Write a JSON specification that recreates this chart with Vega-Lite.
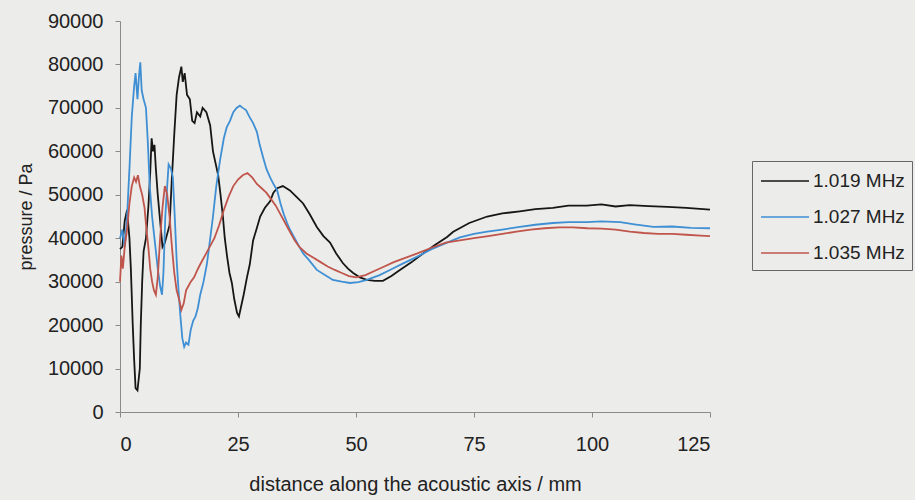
{
  "$schema": "https://vega.github.io/schema/vega-lite/v6.json",
  "width": 590,
  "height": 391,
  "autosize": "none",
  "padding": {"left": 120, "top": 21, "right": 205, "bottom": 88},
  "background": "#ececea",
  "config": {
    "view": {"stroke": null},
    "font": "Liberation Sans"
  },
  "data": {
    "values": [
      {"f":"1.019 MHz","x":0,"y":37500},{"f":"1.019 MHz","x":0.5,"y":38000},{"f":"1.019 MHz","x":1.0,"y":44000},{"f":"1.019 MHz","x":1.5,"y":46500},{"f":"1.019 MHz","x":2.0,"y":40000},{"f":"1.019 MHz","x":2.3,"y":33000},{"f":"1.019 MHz","x":2.7,"y":20000},{"f":"1.019 MHz","x":3.0,"y":12000},{"f":"1.019 MHz","x":3.3,"y":5500},{"f":"1.019 MHz","x":3.7,"y":5000},{"f":"1.019 MHz","x":4.0,"y":8000},{"f":"1.019 MHz","x":4.2,"y":10000},{"f":"1.019 MHz","x":4.4,"y":20000},{"f":"1.019 MHz","x":4.7,"y":30000},{"f":"1.019 MHz","x":5.0,"y":37000},{"f":"1.019 MHz","x":5.5,"y":40000},{"f":"1.019 MHz","x":6.0,"y":47000},{"f":"1.019 MHz","x":6.4,"y":55000},{"f":"1.019 MHz","x":6.7,"y":63000},{"f":"1.019 MHz","x":7.0,"y":60000},{"f":"1.019 MHz","x":7.3,"y":61500},{"f":"1.019 MHz","x":7.6,"y":56000},{"f":"1.019 MHz","x":8.0,"y":50000},{"f":"1.019 MHz","x":8.5,"y":44000},{"f":"1.019 MHz","x":9.0,"y":38000},{"f":"1.019 MHz","x":9.5,"y":39000},{"f":"1.019 MHz","x":10.0,"y":41000},{"f":"1.019 MHz","x":10.5,"y":43000},{"f":"1.019 MHz","x":11.0,"y":54000},{"f":"1.019 MHz","x":11.5,"y":64000},{"f":"1.019 MHz","x":12.0,"y":73000},{"f":"1.019 MHz","x":12.5,"y":77000},{"f":"1.019 MHz","x":13.0,"y":79500},{"f":"1.019 MHz","x":13.3,"y":76000},{"f":"1.019 MHz","x":13.7,"y":78000},{"f":"1.019 MHz","x":14.2,"y":73000},{"f":"1.019 MHz","x":14.8,"y":72000},{"f":"1.019 MHz","x":15.3,"y":67000},{"f":"1.019 MHz","x":15.8,"y":66500},{"f":"1.019 MHz","x":16.3,"y":69000},{"f":"1.019 MHz","x":17.0,"y":68000},{"f":"1.019 MHz","x":17.5,"y":70000},{"f":"1.019 MHz","x":18.3,"y":69000},{"f":"1.019 MHz","x":19.1,"y":66000},{"f":"1.019 MHz","x":19.7,"y":60000},{"f":"1.019 MHz","x":20.3,"y":57000},{"f":"1.019 MHz","x":20.8,"y":54500},{"f":"1.019 MHz","x":21.3,"y":50000},{"f":"1.019 MHz","x":21.8,"y":45000},{"f":"1.019 MHz","x":22.2,"y":40000},{"f":"1.019 MHz","x":22.7,"y":35700},{"f":"1.019 MHz","x":23.2,"y":32000},{"f":"1.019 MHz","x":23.7,"y":29700},{"f":"1.019 MHz","x":24.2,"y":26000},{"f":"1.019 MHz","x":24.8,"y":22800},{"f":"1.019 MHz","x":25.2,"y":22000},{"f":"1.019 MHz","x":25.6,"y":24000},{"f":"1.019 MHz","x":26.2,"y":27000},{"f":"1.019 MHz","x":26.9,"y":31000},{"f":"1.019 MHz","x":27.5,"y":34000},{"f":"1.019 MHz","x":28.2,"y":39500},{"f":"1.019 MHz","x":28.9,"y":42000},{"f":"1.019 MHz","x":29.7,"y":45000},{"f":"1.019 MHz","x":30.7,"y":47000},{"f":"1.019 MHz","x":31.8,"y":48500},{"f":"1.019 MHz","x":32.5,"y":50500},{"f":"1.019 MHz","x":33.3,"y":51500},{"f":"1.019 MHz","x":34.5,"y":52000},{"f":"1.019 MHz","x":36.0,"y":51000},{"f":"1.019 MHz","x":37.4,"y":49500},{"f":"1.019 MHz","x":38.8,"y":48000},{"f":"1.019 MHz","x":40.2,"y":45500},{"f":"1.019 MHz","x":41.7,"y":42600},{"f":"1.019 MHz","x":43.1,"y":40500},{"f":"1.019 MHz","x":44.5,"y":39000},{"f":"1.019 MHz","x":45.8,"y":36500},{"f":"1.019 MHz","x":47.2,"y":34300},{"f":"1.019 MHz","x":48.3,"y":33000},{"f":"1.019 MHz","x":49.4,"y":32000},{"f":"1.019 MHz","x":50.8,"y":31000},{"f":"1.019 MHz","x":52.3,"y":30400},{"f":"1.019 MHz","x":54.0,"y":30200},{"f":"1.019 MHz","x":55.7,"y":30200},{"f":"1.019 MHz","x":57.5,"y":31300},{"f":"1.019 MHz","x":59.3,"y":32700},{"f":"1.019 MHz","x":61.8,"y":34500},{"f":"1.019 MHz","x":64.2,"y":36500},{"f":"1.019 MHz","x":66.8,"y":38500},{"f":"1.019 MHz","x":69.3,"y":40300},{"f":"1.019 MHz","x":70.6,"y":41500},{"f":"1.019 MHz","x":74.0,"y":43500},{"f":"1.019 MHz","x":77.8,"y":45000},{"f":"1.019 MHz","x":81.0,"y":45700},{"f":"1.019 MHz","x":84.7,"y":46200},{"f":"1.019 MHz","x":88.0,"y":46700},{"f":"1.019 MHz","x":91.7,"y":47000},{"f":"1.019 MHz","x":95.0,"y":47500},{"f":"1.019 MHz","x":98.9,"y":47500},{"f":"1.019 MHz","x":102,"y":47800},{"f":"1.019 MHz","x":105,"y":47300},{"f":"1.019 MHz","x":108,"y":47600},{"f":"1.019 MHz","x":112,"y":47400},{"f":"1.019 MHz","x":116,"y":47200},{"f":"1.019 MHz","x":120,"y":47000},{"f":"1.019 MHz","x":125,"y":46600},
      {"f":"1.027 MHz","x":0,"y":40000},{"f":"1.027 MHz","x":0.5,"y":42000},{"f":"1.027 MHz","x":1.0,"y":38000},{"f":"1.027 MHz","x":1.5,"y":45000},{"f":"1.027 MHz","x":2.0,"y":56000},{"f":"1.027 MHz","x":2.5,"y":68000},{"f":"1.027 MHz","x":3.0,"y":75000},{"f":"1.027 MHz","x":3.3,"y":78000},{"f":"1.027 MHz","x":3.7,"y":72000},{"f":"1.027 MHz","x":4.0,"y":77000},{"f":"1.027 MHz","x":4.3,"y":80500},{"f":"1.027 MHz","x":4.6,"y":74000},{"f":"1.027 MHz","x":5.0,"y":72000},{"f":"1.027 MHz","x":5.5,"y":70000},{"f":"1.027 MHz","x":5.9,"y":62000},{"f":"1.027 MHz","x":6.3,"y":52000},{"f":"1.027 MHz","x":6.8,"y":45000},{"f":"1.027 MHz","x":7.2,"y":41000},{"f":"1.027 MHz","x":7.7,"y":36000},{"f":"1.027 MHz","x":8.0,"y":33000},{"f":"1.027 MHz","x":8.5,"y":29000},{"f":"1.027 MHz","x":8.9,"y":27000},{"f":"1.027 MHz","x":9.2,"y":32000},{"f":"1.027 MHz","x":9.6,"y":45000},{"f":"1.027 MHz","x":10.0,"y":52000},{"f":"1.027 MHz","x":10.3,"y":57000},{"f":"1.027 MHz","x":10.8,"y":56000},{"f":"1.027 MHz","x":11.2,"y":54000},{"f":"1.027 MHz","x":11.6,"y":45000},{"f":"1.027 MHz","x":12.0,"y":35000},{"f":"1.027 MHz","x":12.4,"y":28000},{"f":"1.027 MHz","x":12.8,"y":22000},{"f":"1.027 MHz","x":13.2,"y":17000},{"f":"1.027 MHz","x":13.6,"y":15000},{"f":"1.027 MHz","x":14.0,"y":16000},{"f":"1.027 MHz","x":14.5,"y":15500},{"f":"1.027 MHz","x":15.0,"y":19000},{"f":"1.027 MHz","x":15.5,"y":21000},{"f":"1.027 MHz","x":16.0,"y":22000},{"f":"1.027 MHz","x":16.5,"y":24000},{"f":"1.027 MHz","x":17.0,"y":27000},{"f":"1.027 MHz","x":17.7,"y":30000},{"f":"1.027 MHz","x":18.4,"y":34000},{"f":"1.027 MHz","x":19.0,"y":39000},{"f":"1.027 MHz","x":19.7,"y":45000},{"f":"1.027 MHz","x":20.4,"y":52000},{"f":"1.027 MHz","x":21.2,"y":58000},{"f":"1.027 MHz","x":22.0,"y":63000},{"f":"1.027 MHz","x":22.6,"y":65500},{"f":"1.027 MHz","x":23.3,"y":67000},{"f":"1.027 MHz","x":24.0,"y":69000},{"f":"1.027 MHz","x":24.7,"y":70000},{"f":"1.027 MHz","x":25.4,"y":70500},{"f":"1.027 MHz","x":26.0,"y":70000},{"f":"1.027 MHz","x":26.7,"y":69500},{"f":"1.027 MHz","x":27.4,"y":68000},{"f":"1.027 MHz","x":28.2,"y":66500},{"f":"1.027 MHz","x":29.0,"y":64500},{"f":"1.027 MHz","x":29.6,"y":61500},{"f":"1.027 MHz","x":30.3,"y":58700},{"f":"1.027 MHz","x":31.0,"y":56000},{"f":"1.027 MHz","x":31.8,"y":54000},{"f":"1.027 MHz","x":32.5,"y":52500},{"f":"1.027 MHz","x":33.3,"y":51000},{"f":"1.027 MHz","x":34.0,"y":48000},{"f":"1.027 MHz","x":34.7,"y":45500},{"f":"1.027 MHz","x":35.4,"y":43500},{"f":"1.027 MHz","x":36.0,"y":42000},{"f":"1.027 MHz","x":37.0,"y":40000},{"f":"1.027 MHz","x":38.0,"y":38000},{"f":"1.027 MHz","x":38.8,"y":36500},{"f":"1.027 MHz","x":40.0,"y":35000},{"f":"1.027 MHz","x":41.7,"y":32700},{"f":"1.027 MHz","x":43.5,"y":31500},{"f":"1.027 MHz","x":45.1,"y":30400},{"f":"1.027 MHz","x":47.0,"y":30000},{"f":"1.027 MHz","x":48.7,"y":29700},{"f":"1.027 MHz","x":50.5,"y":29900},{"f":"1.027 MHz","x":52.3,"y":30400},{"f":"1.027 MHz","x":55.0,"y":31500},{"f":"1.027 MHz","x":57.2,"y":32700},{"f":"1.027 MHz","x":60.0,"y":34200},{"f":"1.027 MHz","x":62.9,"y":35700},{"f":"1.027 MHz","x":66.0,"y":37500},{"f":"1.027 MHz","x":69.3,"y":39000},{"f":"1.027 MHz","x":72.0,"y":40200},{"f":"1.027 MHz","x":75.0,"y":41000},{"f":"1.027 MHz","x":77.8,"y":41500},{"f":"1.027 MHz","x":81.0,"y":42000},{"f":"1.027 MHz","x":84.7,"y":42600},{"f":"1.027 MHz","x":88.0,"y":43100},{"f":"1.027 MHz","x":91.7,"y":43500},{"f":"1.027 MHz","x":95.0,"y":43700},{"f":"1.027 MHz","x":98.9,"y":43700},{"f":"1.027 MHz","x":102.0,"y":43900},{"f":"1.027 MHz","x":106.0,"y":43700},{"f":"1.027 MHz","x":109.0,"y":43200},{"f":"1.027 MHz","x":113.0,"y":42600},{"f":"1.027 MHz","x":117.0,"y":42700},{"f":"1.027 MHz","x":121.0,"y":42400},{"f":"1.027 MHz","x":125.0,"y":42300},
      {"f":"1.035 MHz","x":0,"y":30000},{"f":"1.035 MHz","x":0.3,"y":36000},{"f":"1.035 MHz","x":0.6,"y":33000},{"f":"1.035 MHz","x":1.0,"y":38000},{"f":"1.035 MHz","x":1.5,"y":42000},{"f":"1.035 MHz","x":2.0,"y":48000},{"f":"1.035 MHz","x":2.5,"y":52000},{"f":"1.035 MHz","x":3.0,"y":54000},{"f":"1.035 MHz","x":3.4,"y":53000},{"f":"1.035 MHz","x":3.8,"y":54500},{"f":"1.035 MHz","x":4.2,"y":52000},{"f":"1.035 MHz","x":4.7,"y":50000},{"f":"1.035 MHz","x":5.2,"y":47000},{"f":"1.035 MHz","x":5.6,"y":42000},{"f":"1.035 MHz","x":6.0,"y":38000},{"f":"1.035 MHz","x":6.4,"y":33000},{"f":"1.035 MHz","x":6.8,"y":30000},{"f":"1.035 MHz","x":7.2,"y":28000},{"f":"1.035 MHz","x":7.6,"y":27000},{"f":"1.035 MHz","x":8.0,"y":31000},{"f":"1.035 MHz","x":8.5,"y":40000},{"f":"1.035 MHz","x":9.0,"y":47000},{"f":"1.035 MHz","x":9.5,"y":52000},{"f":"1.035 MHz","x":10.0,"y":50000},{"f":"1.035 MHz","x":10.5,"y":45000},{"f":"1.035 MHz","x":11.0,"y":38000},{"f":"1.035 MHz","x":11.5,"y":32000},{"f":"1.035 MHz","x":12.0,"y":28000},{"f":"1.035 MHz","x":12.5,"y":26000},{"f":"1.035 MHz","x":13.0,"y":23500},{"f":"1.035 MHz","x":13.5,"y":25000},{"f":"1.035 MHz","x":14.0,"y":28000},{"f":"1.035 MHz","x":14.5,"y":29000},{"f":"1.035 MHz","x":15.0,"y":30000},{"f":"1.035 MHz","x":15.7,"y":31000},{"f":"1.035 MHz","x":16.3,"y":32500},{"f":"1.035 MHz","x":17.0,"y":34000},{"f":"1.035 MHz","x":18.0,"y":36000},{"f":"1.035 MHz","x":19.0,"y":38000},{"f":"1.035 MHz","x":20.0,"y":40000},{"f":"1.035 MHz","x":21.0,"y":43000},{"f":"1.035 MHz","x":22.0,"y":46500},{"f":"1.035 MHz","x":23.0,"y":49500},{"f":"1.035 MHz","x":24.0,"y":52000},{"f":"1.035 MHz","x":25.0,"y":53500},{"f":"1.035 MHz","x":26.0,"y":54500},{"f":"1.035 MHz","x":27.0,"y":55000},{"f":"1.035 MHz","x":28.0,"y":54000},{"f":"1.035 MHz","x":29.0,"y":52500},{"f":"1.035 MHz","x":30.0,"y":51500},{"f":"1.035 MHz","x":31.0,"y":50500},{"f":"1.035 MHz","x":32.0,"y":49000},{"f":"1.035 MHz","x":33.0,"y":47500},{"f":"1.035 MHz","x":34.0,"y":45500},{"f":"1.035 MHz","x":35.0,"y":43500},{"f":"1.035 MHz","x":36.0,"y":41500},{"f":"1.035 MHz","x":37.0,"y":39500},{"f":"1.035 MHz","x":38.0,"y":38000},{"f":"1.035 MHz","x":39.5,"y":36500},{"f":"1.035 MHz","x":41.0,"y":35500},{"f":"1.035 MHz","x":42.5,"y":34500},{"f":"1.035 MHz","x":44.0,"y":33500},{"f":"1.035 MHz","x":45.5,"y":32700},{"f":"1.035 MHz","x":47.0,"y":32000},{"f":"1.035 MHz","x":48.5,"y":31300},{"f":"1.035 MHz","x":50.0,"y":31000},{"f":"1.035 MHz","x":52.0,"y":31500},{"f":"1.035 MHz","x":54.0,"y":32500},{"f":"1.035 MHz","x":56.0,"y":33500},{"f":"1.035 MHz","x":58.0,"y":34500},{"f":"1.035 MHz","x":60.0,"y":35300},{"f":"1.035 MHz","x":63.0,"y":36500},{"f":"1.035 MHz","x":66.0,"y":37800},{"f":"1.035 MHz","x":69.0,"y":39000},{"f":"1.035 MHz","x":72.0,"y":39500},{"f":"1.035 MHz","x":75.0,"y":40000},{"f":"1.035 MHz","x":78.0,"y":40500},{"f":"1.035 MHz","x":81.0,"y":41000},{"f":"1.035 MHz","x":84.0,"y":41500},{"f":"1.035 MHz","x":87.0,"y":42000},{"f":"1.035 MHz","x":90.0,"y":42300},{"f":"1.035 MHz","x":93.0,"y":42500},{"f":"1.035 MHz","x":96.0,"y":42500},{"f":"1.035 MHz","x":99.0,"y":42300},{"f":"1.035 MHz","x":102.0,"y":42200},{"f":"1.035 MHz","x":105.0,"y":42000},{"f":"1.035 MHz","x":108.0,"y":41500},{"f":"1.035 MHz","x":111.0,"y":41200},{"f":"1.035 MHz","x":114.0,"y":41000},{"f":"1.035 MHz","x":117.0,"y":41000},{"f":"1.035 MHz","x":120.0,"y":40800},{"f":"1.035 MHz","x":123.0,"y":40600},{"f":"1.035 MHz","x":125.0,"y":40500}
    ]
  },
  "mark": {"type": "line", "strokeWidth": 1.8},
  "encoding": {
    "x": {
      "field": "x", "type": "quantitative",
      "scale": {"domain": [0, 125], "nice": false, "zero": true},
      "axis": {
        "values": [0, 25, 50, 75, 100, 125],
        "title": "distance along the acoustic axis / mm",
        "grid": false,
        "domainColor": "#8a8a8a",
        "tickColor": "#8a8a8a",
        "tickSize": 5,
        "labelFontSize": 20,
        "labelColor": "#222",
        "labelPadding": 17,
        "labelFont": "Liberation Sans",
        "titleFont": "Liberation Sans",
        "titleFontSize": 20,
        "titleFontWeight": "normal",
        "titleColor": "#222",
        "titlePadding": 20
      }
    },
    "y": {
      "field": "y", "type": "quantitative",
      "scale": {"domain": [0, 90000], "nice": false},
      "axis": {
        "values": [0, 10000, 20000, 30000, 40000, 50000, 60000, 70000, 80000, 90000],
        "format": "d",
        "title": "pressure / Pa",
        "grid": false,
        "domainColor": "#8a8a8a",
        "tickColor": "#8a8a8a",
        "tickSize": 5,
        "labelFontSize": 20,
        "labelColor": "#222",
        "labelPadding": 12,
        "labelFont": "Liberation Sans",
        "titleFont": "Liberation Sans",
        "titleFontSize": 18,
        "titleFontWeight": "normal",
        "titleColor": "#222",
        "titlePadding": 12
      }
    },
    "color": {
      "field": "f", "type": "nominal",
      "scale": {
        "domain": ["1.019 MHz", "1.027 MHz", "1.035 MHz"],
        "range": ["#161616", "#3f8fd4", "#c0554c"]
      },
      "legend": {
        "orient": "none",
        "legendX": 632,
        "legendY": 140,
        "title": null,
        "symbolType": "M-2,0H2",
        "symbolSize": 576,
        "symbolStrokeWidth": 1.5,
        "symbolOffset": 13,
        "labelFontSize": 19,
        "labelFont": "Liberation Sans",
        "labelColor": "#222",
        "labelOffset": 15,
        "rowPadding": 13,
        "strokeColor": "#666",
        "padding": 7
      }
    }
  }
}
